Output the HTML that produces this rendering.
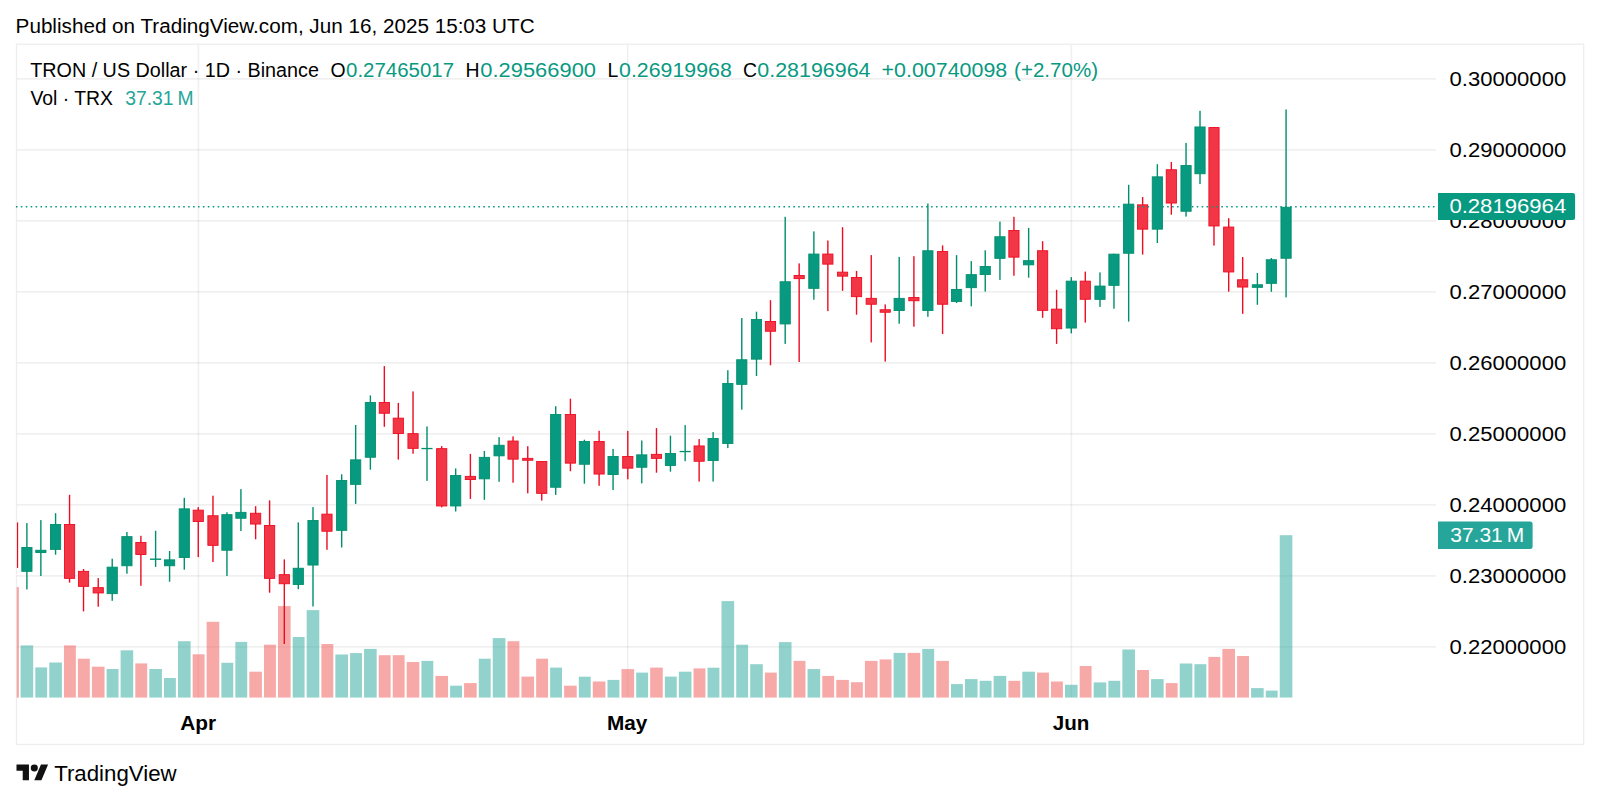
<!DOCTYPE html>
<html lang="en">
<head>
<meta charset="utf-8">
<title>TRON / US Dollar chart</title>
<style>
html,body{margin:0;padding:0;background:#fff;}
body{width:1600px;height:802px;overflow:hidden;position:relative;font-family:"Liberation Sans",sans-serif;}
svg{position:absolute;left:0;top:0;display:block;}
text{font-family:"Liberation Sans",sans-serif;}
.k{fill:#000000;}
.g{fill:#089981;}
</style>
</head>
<body>
<svg width="1600" height="802" viewBox="0 0 1600 802">
<rect x="0" y="0" width="1600" height="802" fill="#ffffff"/>
<defs><clipPath id="pane"><rect x="16.5" y="44.5" width="1420" height="653.25"/></clipPath></defs>
<g stroke="#000000" stroke-opacity="0.06" stroke-width="1.6" fill="none">
<line x1="17" y1="78.9" x2="1436" y2="78.9"/>
<line x1="17" y1="149.9" x2="1436" y2="149.9"/>
<line x1="17" y1="220.9" x2="1436" y2="220.9"/>
<line x1="17" y1="291.9" x2="1436" y2="291.9"/>
<line x1="17" y1="362.9" x2="1436" y2="362.9"/>
<line x1="17" y1="433.9" x2="1436" y2="433.9"/>
<line x1="17" y1="504.9" x2="1436" y2="504.9"/>
<line x1="17" y1="575.9" x2="1436" y2="575.9"/>
<line x1="17" y1="646.9" x2="1436" y2="646.9"/>
<line x1="198.4" y1="45" x2="198.4" y2="697.75"/>
<line x1="627.7" y1="45" x2="627.7" y2="697.75"/>
<line x1="1071.4" y1="45" x2="1071.4" y2="697.75"/>
</g>
<g clip-path="url(#pane)">
<rect x="16.5" y="587.1" width="2.4" height="110.65" fill="#ef5350" fill-opacity="0.5"/>
<rect x="20.58" y="645.4" width="12.61" height="52.35" fill="#26a69a" fill-opacity="0.5"/>
<rect x="35.29" y="667.4" width="11.87" height="30.35" fill="#26a69a" fill-opacity="0.5"/>
<rect x="49.26" y="662.5" width="12.61" height="35.25" fill="#26a69a" fill-opacity="0.5"/>
<rect x="63.97" y="645.4" width="11.87" height="52.35" fill="#ef5350" fill-opacity="0.5"/>
<rect x="77.95" y="658.7" width="11.87" height="39.05" fill="#ef5350" fill-opacity="0.5"/>
<rect x="91.92" y="666.7" width="12.61" height="31.05" fill="#ef5350" fill-opacity="0.5"/>
<rect x="106.63" y="669" width="11.87" height="28.75" fill="#26a69a" fill-opacity="0.5"/>
<rect x="120.61" y="650.3" width="12.61" height="47.45" fill="#26a69a" fill-opacity="0.5"/>
<rect x="135.32" y="663.4" width="11.87" height="34.35" fill="#ef5350" fill-opacity="0.5"/>
<rect x="149.29" y="669" width="12.61" height="28.75" fill="#26a69a" fill-opacity="0.5"/>
<rect x="164" y="678" width="11.87" height="19.75" fill="#26a69a" fill-opacity="0.5"/>
<rect x="177.98" y="641.2" width="12.61" height="56.55" fill="#26a69a" fill-opacity="0.5"/>
<rect x="192.69" y="654.3" width="11.87" height="43.45" fill="#ef5350" fill-opacity="0.5"/>
<rect x="206.66" y="621.8" width="12.61" height="75.95" fill="#ef5350" fill-opacity="0.5"/>
<rect x="221.37" y="662.8" width="11.87" height="34.95" fill="#26a69a" fill-opacity="0.5"/>
<rect x="235.34" y="641.9" width="11.87" height="55.85" fill="#26a69a" fill-opacity="0.5"/>
<rect x="249.32" y="671.7" width="12.61" height="26.05" fill="#ef5350" fill-opacity="0.5"/>
<rect x="264.03" y="644.7" width="11.87" height="53.05" fill="#ef5350" fill-opacity="0.5"/>
<rect x="278" y="606.1" width="12.61" height="91.65" fill="#ef5350" fill-opacity="0.5"/>
<rect x="292.71" y="637" width="11.87" height="60.75" fill="#26a69a" fill-opacity="0.5"/>
<rect x="306.69" y="610.1" width="12.61" height="87.65" fill="#26a69a" fill-opacity="0.5"/>
<rect x="321.4" y="644" width="11.87" height="53.75" fill="#ef5350" fill-opacity="0.5"/>
<rect x="335.37" y="654.5" width="12.61" height="43.25" fill="#26a69a" fill-opacity="0.5"/>
<rect x="350.08" y="653.1" width="11.87" height="44.65" fill="#26a69a" fill-opacity="0.5"/>
<rect x="364.06" y="648.9" width="12.61" height="48.85" fill="#26a69a" fill-opacity="0.5"/>
<rect x="378.77" y="655.2" width="11.87" height="42.55" fill="#ef5350" fill-opacity="0.5"/>
<rect x="392.74" y="655.2" width="11.87" height="42.55" fill="#ef5350" fill-opacity="0.5"/>
<rect x="406.72" y="662" width="12.61" height="35.75" fill="#ef5350" fill-opacity="0.5"/>
<rect x="421.43" y="660.9" width="11.87" height="36.85" fill="#26a69a" fill-opacity="0.5"/>
<rect x="435.4" y="675.9" width="12.61" height="21.85" fill="#ef5350" fill-opacity="0.5"/>
<rect x="450.11" y="685.7" width="11.87" height="12.05" fill="#26a69a" fill-opacity="0.5"/>
<rect x="464.08" y="683.1" width="12.61" height="14.65" fill="#ef5350" fill-opacity="0.5"/>
<rect x="478.79" y="658.7" width="11.87" height="39.05" fill="#26a69a" fill-opacity="0.5"/>
<rect x="492.77" y="638.1" width="12.61" height="59.65" fill="#26a69a" fill-opacity="0.5"/>
<rect x="507.48" y="641.2" width="11.87" height="56.55" fill="#ef5350" fill-opacity="0.5"/>
<rect x="521.45" y="676.6" width="12.61" height="21.15" fill="#ef5350" fill-opacity="0.5"/>
<rect x="536.16" y="658.7" width="11.87" height="39.05" fill="#ef5350" fill-opacity="0.5"/>
<rect x="550.14" y="667.6" width="11.87" height="30.15" fill="#26a69a" fill-opacity="0.5"/>
<rect x="564.11" y="685.7" width="12.61" height="12.05" fill="#ef5350" fill-opacity="0.5"/>
<rect x="578.82" y="676.7" width="11.87" height="21.05" fill="#26a69a" fill-opacity="0.5"/>
<rect x="592.8" y="681.5" width="12.61" height="16.25" fill="#ef5350" fill-opacity="0.5"/>
<rect x="607.51" y="679.9" width="11.87" height="17.85" fill="#26a69a" fill-opacity="0.5"/>
<rect x="621.48" y="669.1" width="12.61" height="28.65" fill="#ef5350" fill-opacity="0.5"/>
<rect x="636.19" y="672.6" width="11.87" height="25.15" fill="#26a69a" fill-opacity="0.5"/>
<rect x="650.17" y="667.6" width="12.61" height="30.15" fill="#ef5350" fill-opacity="0.5"/>
<rect x="664.88" y="676.6" width="11.87" height="21.15" fill="#26a69a" fill-opacity="0.5"/>
<rect x="678.85" y="671.7" width="12.61" height="26.05" fill="#26a69a" fill-opacity="0.5"/>
<rect x="693.56" y="668.4" width="11.87" height="29.35" fill="#ef5350" fill-opacity="0.5"/>
<rect x="707.54" y="667.7" width="11.87" height="30.05" fill="#26a69a" fill-opacity="0.5"/>
<rect x="721.51" y="601.1" width="12.61" height="96.65" fill="#26a69a" fill-opacity="0.5"/>
<rect x="736.22" y="644.7" width="11.87" height="53.05" fill="#26a69a" fill-opacity="0.5"/>
<rect x="750.19" y="664.2" width="12.61" height="33.55" fill="#26a69a" fill-opacity="0.5"/>
<rect x="764.9" y="672.6" width="11.87" height="25.15" fill="#ef5350" fill-opacity="0.5"/>
<rect x="778.88" y="642.1" width="12.61" height="55.65" fill="#26a69a" fill-opacity="0.5"/>
<rect x="793.59" y="660.9" width="11.87" height="36.85" fill="#ef5350" fill-opacity="0.5"/>
<rect x="807.56" y="669.1" width="12.61" height="28.65" fill="#26a69a" fill-opacity="0.5"/>
<rect x="822.27" y="675.9" width="11.87" height="21.85" fill="#ef5350" fill-opacity="0.5"/>
<rect x="836.25" y="679.9" width="12.61" height="17.85" fill="#ef5350" fill-opacity="0.5"/>
<rect x="850.96" y="682.2" width="11.87" height="15.55" fill="#ef5350" fill-opacity="0.5"/>
<rect x="864.93" y="660.9" width="12.61" height="36.85" fill="#ef5350" fill-opacity="0.5"/>
<rect x="879.64" y="659.4" width="11.87" height="38.35" fill="#ef5350" fill-opacity="0.5"/>
<rect x="893.62" y="652.9" width="11.87" height="44.85" fill="#26a69a" fill-opacity="0.5"/>
<rect x="907.59" y="652.9" width="12.61" height="44.85" fill="#ef5350" fill-opacity="0.5"/>
<rect x="922.3" y="648.9" width="11.87" height="48.85" fill="#26a69a" fill-opacity="0.5"/>
<rect x="936.28" y="660.9" width="12.61" height="36.85" fill="#ef5350" fill-opacity="0.5"/>
<rect x="950.99" y="684.1" width="11.87" height="13.65" fill="#26a69a" fill-opacity="0.5"/>
<rect x="964.96" y="679.1" width="12.61" height="18.65" fill="#26a69a" fill-opacity="0.5"/>
<rect x="979.67" y="680.8" width="11.87" height="16.95" fill="#26a69a" fill-opacity="0.5"/>
<rect x="993.64" y="675.9" width="12.61" height="21.85" fill="#26a69a" fill-opacity="0.5"/>
<rect x="1008.35" y="680.8" width="11.87" height="16.95" fill="#ef5350" fill-opacity="0.5"/>
<rect x="1022.33" y="671.7" width="12.61" height="26.05" fill="#26a69a" fill-opacity="0.5"/>
<rect x="1037.04" y="672.6" width="11.87" height="25.15" fill="#ef5350" fill-opacity="0.5"/>
<rect x="1051.01" y="681.5" width="11.87" height="16.25" fill="#ef5350" fill-opacity="0.5"/>
<rect x="1064.99" y="684.8" width="12.61" height="12.95" fill="#26a69a" fill-opacity="0.5"/>
<rect x="1079.7" y="666" width="11.87" height="31.75" fill="#ef5350" fill-opacity="0.5"/>
<rect x="1093.67" y="682.4" width="12.61" height="15.35" fill="#26a69a" fill-opacity="0.5"/>
<rect x="1108.38" y="680.8" width="11.87" height="16.95" fill="#26a69a" fill-opacity="0.5"/>
<rect x="1122.36" y="649.5" width="12.61" height="48.25" fill="#26a69a" fill-opacity="0.5"/>
<rect x="1137.07" y="670" width="11.87" height="27.75" fill="#ef5350" fill-opacity="0.5"/>
<rect x="1151.04" y="679.1" width="12.61" height="18.65" fill="#26a69a" fill-opacity="0.5"/>
<rect x="1165.75" y="683.1" width="11.87" height="14.65" fill="#ef5350" fill-opacity="0.5"/>
<rect x="1179.73" y="663.5" width="12.61" height="34.25" fill="#26a69a" fill-opacity="0.5"/>
<rect x="1194.44" y="664.2" width="11.87" height="33.55" fill="#26a69a" fill-opacity="0.5"/>
<rect x="1208.41" y="656.9" width="11.87" height="40.85" fill="#ef5350" fill-opacity="0.5"/>
<rect x="1222.39" y="648.9" width="12.61" height="48.85" fill="#ef5350" fill-opacity="0.5"/>
<rect x="1237.1" y="656" width="11.87" height="41.75" fill="#ef5350" fill-opacity="0.5"/>
<rect x="1251.07" y="688.1" width="12.61" height="9.65" fill="#26a69a" fill-opacity="0.5"/>
<rect x="1265.78" y="690.6" width="11.87" height="7.15" fill="#26a69a" fill-opacity="0.5"/>
<rect x="1279.75" y="535.2" width="12.61" height="162.55" fill="#26a69a" fill-opacity="0.5"/>
</g>
<g clip-path="url(#pane)">
<rect x="16.9" y="522.4" width="1.25" height="45.5" fill="#EE0C22"/>
<rect x="26.19" y="523.1" width="1.4" height="66.3" fill="#008F6C"/><rect x="21.79" y="547.45" width="10.2" height="23.9" fill="#089981" stroke="#008F6C" stroke-width="0.9"/>
<rect x="40.16" y="520.1" width="1.4" height="55.9" fill="#008F6C"/><rect x="35.76" y="550.25" width="10.2" height="2.3" fill="#089981" stroke="#008F6C" stroke-width="0.9"/>
<rect x="54.87" y="513.2" width="1.4" height="41.5" fill="#008F6C"/><rect x="50.47" y="524.45" width="10.2" height="24.9" fill="#089981" stroke="#008F6C" stroke-width="0.9"/>
<rect x="68.85" y="494.8" width="1.4" height="87.8" fill="#EE0C22"/><rect x="64.45" y="524.45" width="10.2" height="53.9" fill="#F23645" stroke="#EE0C22" stroke-width="0.9"/>
<rect x="82.82" y="569" width="1.4" height="42.4" fill="#EE0C22"/><rect x="78.42" y="571.35" width="10.2" height="15" fill="#F23645" stroke="#EE0C22" stroke-width="0.9"/>
<rect x="97.53" y="578.1" width="1.4" height="28.6" fill="#EE0C22"/><rect x="93.13" y="587.65" width="10.2" height="5.3" fill="#F23645" stroke="#EE0C22" stroke-width="0.9"/>
<rect x="111.51" y="558.7" width="1.4" height="42.1" fill="#008F6C"/><rect x="107.11" y="567.15" width="10.2" height="26.5" fill="#089981" stroke="#008F6C" stroke-width="0.9"/>
<rect x="126.22" y="532" width="1.4" height="41.7" fill="#008F6C"/><rect x="121.82" y="536.65" width="10.2" height="29.1" fill="#089981" stroke="#008F6C" stroke-width="0.9"/>
<rect x="140.19" y="535.8" width="1.4" height="50" fill="#EE0C22"/><rect x="135.79" y="542.45" width="10.2" height="12" fill="#F23645" stroke="#EE0C22" stroke-width="0.9"/>
<rect x="154.9" y="530.8" width="1.4" height="36.1" fill="#008F6C"/><rect x="150.05" y="558.5" width="11.1" height="1.4" fill="#008F6C"/>
<rect x="168.88" y="551" width="1.4" height="30.7" fill="#008F6C"/><rect x="164.48" y="559.85" width="10.2" height="5.9" fill="#089981" stroke="#008F6C" stroke-width="0.9"/>
<rect x="183.59" y="497.8" width="1.4" height="71.9" fill="#008F6C"/><rect x="179.19" y="508.85" width="10.2" height="48.7" fill="#089981" stroke="#008F6C" stroke-width="0.9"/>
<rect x="197.56" y="507.1" width="1.4" height="50" fill="#EE0C22"/><rect x="193.16" y="510.15" width="10.2" height="11.3" fill="#F23645" stroke="#EE0C22" stroke-width="0.9"/>
<rect x="212.27" y="495.7" width="1.4" height="66.3" fill="#EE0C22"/><rect x="207.87" y="515.75" width="10.2" height="29.6" fill="#F23645" stroke="#EE0C22" stroke-width="0.9"/>
<rect x="226.24" y="512.3" width="1.4" height="63.7" fill="#008F6C"/><rect x="221.84" y="514.65" width="10.2" height="35.6" fill="#089981" stroke="#008F6C" stroke-width="0.9"/>
<rect x="240.22" y="489.1" width="1.4" height="41.9" fill="#008F6C"/><rect x="235.82" y="512.35" width="10.2" height="5.9" fill="#089981" stroke="#008F6C" stroke-width="0.9"/>
<rect x="254.93" y="506.2" width="1.4" height="33.1" fill="#EE0C22"/><rect x="250.53" y="513.25" width="10.2" height="10.8" fill="#F23645" stroke="#EE0C22" stroke-width="0.9"/>
<rect x="268.9" y="500.4" width="1.4" height="92.3" fill="#EE0C22"/><rect x="264.5" y="525.45" width="10.2" height="52.9" fill="#F23645" stroke="#EE0C22" stroke-width="0.9"/>
<rect x="283.61" y="559.4" width="1.4" height="84.6" fill="#EE0C22"/><rect x="279.21" y="574.65" width="10.2" height="9.1" fill="#F23645" stroke="#EE0C22" stroke-width="0.9"/>
<rect x="297.59" y="522.4" width="1.4" height="66.8" fill="#008F6C"/><rect x="293.19" y="568.25" width="10.2" height="16.2" fill="#089981" stroke="#008F6C" stroke-width="0.9"/>
<rect x="312.3" y="507.1" width="1.4" height="99.4" fill="#008F6C"/><rect x="307.9" y="520.55" width="10.2" height="44.5" fill="#089981" stroke="#008F6C" stroke-width="0.9"/>
<rect x="326.27" y="475" width="1.4" height="74.8" fill="#EE0C22"/><rect x="321.87" y="514.15" width="10.2" height="17.1" fill="#F23645" stroke="#EE0C22" stroke-width="0.9"/>
<rect x="340.98" y="474.3" width="1.4" height="73.2" fill="#008F6C"/><rect x="336.58" y="480.45" width="10.2" height="49.9" fill="#089981" stroke="#008F6C" stroke-width="0.9"/>
<rect x="354.96" y="425" width="1.4" height="78.9" fill="#008F6C"/><rect x="350.56" y="459.85" width="10.2" height="24.5" fill="#089981" stroke="#008F6C" stroke-width="0.9"/>
<rect x="369.67" y="395.4" width="1.4" height="74.3" fill="#008F6C"/><rect x="365.27" y="402.45" width="10.2" height="54.8" fill="#089981" stroke="#008F6C" stroke-width="0.9"/>
<rect x="383.64" y="366.1" width="1.4" height="60.7" fill="#EE0C22"/><rect x="379.24" y="402.45" width="10.2" height="10.8" fill="#F23645" stroke="#EE0C22" stroke-width="0.9"/>
<rect x="397.62" y="402.9" width="1.4" height="56.7" fill="#EE0C22"/><rect x="393.22" y="418.15" width="10.2" height="15.3" fill="#F23645" stroke="#EE0C22" stroke-width="0.9"/>
<rect x="412.33" y="391.4" width="1.4" height="62.3" fill="#EE0C22"/><rect x="407.93" y="433.65" width="10.2" height="14.7" fill="#F23645" stroke="#EE0C22" stroke-width="0.9"/>
<rect x="426.3" y="426.4" width="1.4" height="54.5" fill="#008F6C"/><rect x="421.45" y="447.9" width="11.1" height="1.3" fill="#008F6C"/>
<rect x="441.01" y="446.1" width="1.4" height="61.2" fill="#EE0C22"/><rect x="436.61" y="448.65" width="10.2" height="57.3" fill="#F23645" stroke="#EE0C22" stroke-width="0.9"/>
<rect x="454.98" y="468.4" width="1.4" height="43.1" fill="#008F6C"/><rect x="450.58" y="475.45" width="10.2" height="30.5" fill="#089981" stroke="#008F6C" stroke-width="0.9"/>
<rect x="469.69" y="453.9" width="1.4" height="45" fill="#EE0C22"/><rect x="465.29" y="476.35" width="10.2" height="3.2" fill="#F23645" stroke="#EE0C22" stroke-width="0.9"/>
<rect x="483.67" y="451" width="1.4" height="48.8" fill="#008F6C"/><rect x="479.27" y="457.35" width="10.2" height="21.5" fill="#089981" stroke="#008F6C" stroke-width="0.9"/>
<rect x="498.38" y="437.1" width="1.4" height="44.7" fill="#008F6C"/><rect x="493.98" y="445.25" width="10.2" height="10.6" fill="#089981" stroke="#008F6C" stroke-width="0.9"/>
<rect x="512.35" y="436.4" width="1.4" height="46.3" fill="#EE0C22"/><rect x="507.95" y="441.05" width="10.2" height="18.1" fill="#F23645" stroke="#EE0C22" stroke-width="0.9"/>
<rect x="527.06" y="446.2" width="1.4" height="47.1" fill="#EE0C22"/><rect x="522.66" y="458.35" width="10.2" height="1.9" fill="#F23645" stroke="#EE0C22" stroke-width="0.9"/>
<rect x="541.04" y="461" width="1.4" height="39.6" fill="#EE0C22"/><rect x="536.64" y="461.45" width="10.2" height="31.9" fill="#F23645" stroke="#EE0C22" stroke-width="0.9"/>
<rect x="555.01" y="406.2" width="1.4" height="88.7" fill="#008F6C"/><rect x="550.61" y="414.55" width="10.2" height="72.7" fill="#089981" stroke="#008F6C" stroke-width="0.9"/>
<rect x="569.72" y="398.7" width="1.4" height="72.5" fill="#EE0C22"/><rect x="565.32" y="414.55" width="10.2" height="48.6" fill="#F23645" stroke="#EE0C22" stroke-width="0.9"/>
<rect x="583.7" y="439.7" width="1.4" height="44" fill="#008F6C"/><rect x="579.3" y="441.55" width="10.2" height="22.7" fill="#089981" stroke="#008F6C" stroke-width="0.9"/>
<rect x="598.41" y="430.8" width="1.4" height="55" fill="#EE0C22"/><rect x="594.01" y="441.55" width="10.2" height="32.5" fill="#F23645" stroke="#EE0C22" stroke-width="0.9"/>
<rect x="612.38" y="449" width="1.4" height="41" fill="#008F6C"/><rect x="607.98" y="456.45" width="10.2" height="18.1" fill="#089981" stroke="#008F6C" stroke-width="0.9"/>
<rect x="627.09" y="430.9" width="1.4" height="48.4" fill="#EE0C22"/><rect x="622.69" y="456.45" width="10.2" height="11.7" fill="#F23645" stroke="#EE0C22" stroke-width="0.9"/>
<rect x="641.07" y="440.5" width="1.4" height="42.9" fill="#008F6C"/><rect x="636.67" y="454.85" width="10.2" height="12.4" fill="#089981" stroke="#008F6C" stroke-width="0.9"/>
<rect x="655.78" y="428.1" width="1.4" height="44.6" fill="#EE0C22"/><rect x="651.38" y="454.35" width="10.2" height="4" fill="#F23645" stroke="#EE0C22" stroke-width="0.9"/>
<rect x="669.75" y="435.7" width="1.4" height="36" fill="#008F6C"/><rect x="665.35" y="453.45" width="10.2" height="12" fill="#089981" stroke="#008F6C" stroke-width="0.9"/>
<rect x="684.46" y="425.1" width="1.4" height="36.1" fill="#008F6C"/><rect x="679.61" y="450.9" width="11.1" height="1.3" fill="#008F6C"/>
<rect x="698.44" y="439.1" width="1.4" height="42.5" fill="#EE0C22"/><rect x="694.04" y="445.95" width="10.2" height="15.3" fill="#F23645" stroke="#EE0C22" stroke-width="0.9"/>
<rect x="712.41" y="432.1" width="1.4" height="49.5" fill="#008F6C"/><rect x="708.01" y="438.45" width="10.2" height="22.1" fill="#089981" stroke="#008F6C" stroke-width="0.9"/>
<rect x="727.12" y="370.2" width="1.4" height="77.9" fill="#008F6C"/><rect x="722.72" y="383.45" width="10.2" height="60" fill="#089981" stroke="#008F6C" stroke-width="0.9"/>
<rect x="741.09" y="318" width="1.4" height="91.7" fill="#008F6C"/><rect x="736.69" y="359.75" width="10.2" height="24.6" fill="#089981" stroke="#008F6C" stroke-width="0.9"/>
<rect x="755.8" y="311.7" width="1.4" height="64.3" fill="#008F6C"/><rect x="751.4" y="319.55" width="10.2" height="39.6" fill="#089981" stroke="#008F6C" stroke-width="0.9"/>
<rect x="769.78" y="300.2" width="1.4" height="65.1" fill="#EE0C22"/><rect x="765.38" y="321.45" width="10.2" height="9.8" fill="#F23645" stroke="#EE0C22" stroke-width="0.9"/>
<rect x="784.49" y="216.8" width="1.4" height="127.1" fill="#008F6C"/><rect x="780.09" y="281.75" width="10.2" height="42.2" fill="#089981" stroke="#008F6C" stroke-width="0.9"/>
<rect x="798.46" y="263.4" width="1.4" height="98.6" fill="#EE0C22"/><rect x="794.06" y="275.45" width="10.2" height="3.2" fill="#F23645" stroke="#EE0C22" stroke-width="0.9"/>
<rect x="813.17" y="231.4" width="1.4" height="68.3" fill="#008F6C"/><rect x="808.77" y="254.05" width="10.2" height="34.3" fill="#089981" stroke="#008F6C" stroke-width="0.9"/>
<rect x="827.15" y="240.5" width="1.4" height="70.6" fill="#EE0C22"/><rect x="822.75" y="254.05" width="10.2" height="10.1" fill="#F23645" stroke="#EE0C22" stroke-width="0.9"/>
<rect x="841.86" y="227.2" width="1.4" height="63.6" fill="#EE0C22"/><rect x="837.46" y="272.15" width="10.2" height="4" fill="#F23645" stroke="#EE0C22" stroke-width="0.9"/>
<rect x="855.83" y="270.9" width="1.4" height="43.8" fill="#EE0C22"/><rect x="851.43" y="277.45" width="10.2" height="19.2" fill="#F23645" stroke="#EE0C22" stroke-width="0.9"/>
<rect x="870.54" y="255.1" width="1.4" height="87.3" fill="#EE0C22"/><rect x="866.14" y="298.35" width="10.2" height="5.9" fill="#F23645" stroke="#EE0C22" stroke-width="0.9"/>
<rect x="884.52" y="304.4" width="1.4" height="57.2" fill="#EE0C22"/><rect x="880.12" y="309.75" width="10.2" height="2.5" fill="#F23645" stroke="#EE0C22" stroke-width="0.9"/>
<rect x="898.49" y="256.9" width="1.4" height="66.8" fill="#008F6C"/><rect x="894.09" y="298.35" width="10.2" height="12.2" fill="#089981" stroke="#008F6C" stroke-width="0.9"/>
<rect x="913.2" y="256.2" width="1.4" height="70.5" fill="#EE0C22"/><rect x="908.8" y="297.55" width="10.2" height="3.2" fill="#F23645" stroke="#EE0C22" stroke-width="0.9"/>
<rect x="927.18" y="203.5" width="1.4" height="113.3" fill="#008F6C"/><rect x="922.78" y="250.75" width="10.2" height="59.8" fill="#089981" stroke="#008F6C" stroke-width="0.9"/>
<rect x="941.89" y="245.4" width="1.4" height="88.6" fill="#EE0C22"/><rect x="937.49" y="251.55" width="10.2" height="52.7" fill="#F23645" stroke="#EE0C22" stroke-width="0.9"/>
<rect x="955.86" y="255.1" width="1.4" height="47.9" fill="#008F6C"/><rect x="951.46" y="289.45" width="10.2" height="12" fill="#089981" stroke="#008F6C" stroke-width="0.9"/>
<rect x="970.57" y="261.1" width="1.4" height="45.2" fill="#008F6C"/><rect x="966.17" y="274.65" width="10.2" height="13" fill="#089981" stroke="#008F6C" stroke-width="0.9"/>
<rect x="984.54" y="250.3" width="1.4" height="41.3" fill="#008F6C"/><rect x="980.14" y="266.45" width="10.2" height="8.1" fill="#089981" stroke="#008F6C" stroke-width="0.9"/>
<rect x="999.25" y="221.6" width="1.4" height="58.3" fill="#008F6C"/><rect x="994.85" y="236.75" width="10.2" height="21.6" fill="#089981" stroke="#008F6C" stroke-width="0.9"/>
<rect x="1013.23" y="216.8" width="1.4" height="58.9" fill="#EE0C22"/><rect x="1008.83" y="230.45" width="10.2" height="26.7" fill="#F23645" stroke="#EE0C22" stroke-width="0.9"/>
<rect x="1027.94" y="227.9" width="1.4" height="49.8" fill="#008F6C"/><rect x="1023.54" y="260.65" width="10.2" height="4.2" fill="#089981" stroke="#008F6C" stroke-width="0.9"/>
<rect x="1041.91" y="241.2" width="1.4" height="76.6" fill="#EE0C22"/><rect x="1037.51" y="250.75" width="10.2" height="59.6" fill="#F23645" stroke="#EE0C22" stroke-width="0.9"/>
<rect x="1055.89" y="289.8" width="1.4" height="54.1" fill="#EE0C22"/><rect x="1051.49" y="309.15" width="10.2" height="19.6" fill="#F23645" stroke="#EE0C22" stroke-width="0.9"/>
<rect x="1070.6" y="277.1" width="1.4" height="56.3" fill="#008F6C"/><rect x="1066.2" y="281.15" width="10.2" height="46.9" fill="#089981" stroke="#008F6C" stroke-width="0.9"/>
<rect x="1084.57" y="271.6" width="1.4" height="51" fill="#EE0C22"/><rect x="1080.17" y="281.15" width="10.2" height="18.1" fill="#F23645" stroke="#EE0C22" stroke-width="0.9"/>
<rect x="1099.28" y="272.4" width="1.4" height="34.5" fill="#008F6C"/><rect x="1094.88" y="286.05" width="10.2" height="13.3" fill="#089981" stroke="#008F6C" stroke-width="0.9"/>
<rect x="1113.26" y="253.7" width="1.4" height="55" fill="#008F6C"/><rect x="1108.86" y="254.15" width="10.2" height="31.2" fill="#089981" stroke="#008F6C" stroke-width="0.9"/>
<rect x="1127.97" y="184.8" width="1.4" height="136.8" fill="#008F6C"/><rect x="1123.57" y="204.15" width="10.2" height="49.1" fill="#089981" stroke="#008F6C" stroke-width="0.9"/>
<rect x="1141.94" y="197" width="1.4" height="57.6" fill="#EE0C22"/><rect x="1137.54" y="204.85" width="10.2" height="24.3" fill="#F23645" stroke="#EE0C22" stroke-width="0.9"/>
<rect x="1156.65" y="164.2" width="1.4" height="78.8" fill="#008F6C"/><rect x="1152.25" y="176.85" width="10.2" height="52.3" fill="#089981" stroke="#008F6C" stroke-width="0.9"/>
<rect x="1170.63" y="162" width="1.4" height="52.7" fill="#EE0C22"/><rect x="1166.23" y="169.75" width="10.2" height="33.3" fill="#F23645" stroke="#EE0C22" stroke-width="0.9"/>
<rect x="1185.34" y="142.9" width="1.4" height="73.7" fill="#008F6C"/><rect x="1180.94" y="165.55" width="10.2" height="45.7" fill="#089981" stroke="#008F6C" stroke-width="0.9"/>
<rect x="1199.31" y="110.8" width="1.4" height="73.3" fill="#008F6C"/><rect x="1194.91" y="126.95" width="10.2" height="46.8" fill="#089981" stroke="#008F6C" stroke-width="0.9"/>
<rect x="1213.29" y="127.1" width="1.4" height="118.5" fill="#EE0C22"/><rect x="1208.89" y="127.55" width="10.2" height="98.4" fill="#F23645" stroke="#EE0C22" stroke-width="0.9"/>
<rect x="1228" y="218.2" width="1.4" height="73.5" fill="#EE0C22"/><rect x="1223.6" y="227.05" width="10.2" height="44.9" fill="#F23645" stroke="#EE0C22" stroke-width="0.9"/>
<rect x="1241.97" y="257" width="1.4" height="56.8" fill="#EE0C22"/><rect x="1237.57" y="279.75" width="10.2" height="7.3" fill="#F23645" stroke="#EE0C22" stroke-width="0.9"/>
<rect x="1256.68" y="273" width="1.4" height="31.8" fill="#008F6C"/><rect x="1252.28" y="284.75" width="10.2" height="2.6" fill="#089981" stroke="#008F6C" stroke-width="0.9"/>
<rect x="1270.65" y="258" width="1.4" height="33.8" fill="#008F6C"/><rect x="1266.25" y="259.75" width="10.2" height="23.6" fill="#089981" stroke="#008F6C" stroke-width="0.9"/>
<rect x="1285.36" y="109.5" width="1.4" height="187.9" fill="#008F6C"/><rect x="1280.96" y="207.25" width="10.2" height="51" fill="#089981" stroke="#008F6C" stroke-width="0.9"/>
</g>
<line x1="15.93" y1="206.7" x2="1435" y2="206.7" stroke="#089981" stroke-width="1.6" stroke-dasharray="1.55 3.37"/>
<rect x="16.5" y="44.25" width="1567.2" height="700.2" fill="none" stroke="#000000" stroke-opacity="0.065" stroke-width="1.4"/>
<text class="k" x="1449.6" y="85.65" font-size="19.6" textLength="116.6" lengthAdjust="spacingAndGlyphs">0.30000000</text>
<text class="k" x="1449.6" y="156.65" font-size="19.6" textLength="116.6" lengthAdjust="spacingAndGlyphs">0.29000000</text>
<text class="k" x="1449.6" y="227.65" font-size="19.6" textLength="116.6" lengthAdjust="spacingAndGlyphs">0.28000000</text>
<text class="k" x="1449.6" y="298.65" font-size="19.6" textLength="116.6" lengthAdjust="spacingAndGlyphs">0.27000000</text>
<text class="k" x="1449.6" y="369.65" font-size="19.6" textLength="116.6" lengthAdjust="spacingAndGlyphs">0.26000000</text>
<text class="k" x="1449.6" y="440.65" font-size="19.6" textLength="116.6" lengthAdjust="spacingAndGlyphs">0.25000000</text>
<text class="k" x="1449.6" y="511.65" font-size="19.6" textLength="116.6" lengthAdjust="spacingAndGlyphs">0.24000000</text>
<text class="k" x="1449.6" y="582.65" font-size="19.6" textLength="116.6" lengthAdjust="spacingAndGlyphs">0.23000000</text>
<text class="k" x="1449.6" y="653.65" font-size="19.6" textLength="116.6" lengthAdjust="spacingAndGlyphs">0.22000000</text>
<path d="M1438 192.9H1572.6a2.5 2.5 0 0 1 2.5 2.5V217.4a2.5 2.5 0 0 1 -2.5 2.5H1438Z" fill="#089981"/>
<text x="1449.4" y="213.2" font-size="19.6" fill="#ffffff" textLength="116.8" lengthAdjust="spacingAndGlyphs">0.28196964</text>
<path d="M1438 521.5H1530.1a2.5 2.5 0 0 1 2.5 2.5V546.6a2.5 2.5 0 0 1 -2.5 2.5H1438Z" fill="#26a69a"/>
<text x="1450.3" y="542.0" font-size="19.6" fill="#ffffff" textLength="74" lengthAdjust="spacingAndGlyphs">37.31&#8201;M</text>
<text class="k" x="180.3" y="729.7" font-size="19.6" font-weight="700" textLength="35.9" lengthAdjust="spacingAndGlyphs">Apr</text>
<text class="k" x="607" y="729.7" font-size="19.6" font-weight="700" textLength="40.4" lengthAdjust="spacingAndGlyphs">May</text>
<text class="k" x="1052.8" y="729.7" font-size="19.6" font-weight="700" textLength="36.6" lengthAdjust="spacingAndGlyphs">Jun</text>
<text class="k" x="15.6" y="32.5" font-size="19.4" textLength="519" lengthAdjust="spacingAndGlyphs">Published on TradingView.com, Jun 16, 2025 15:03 UTC</text>
<text class="k" x="30.2" y="76.6" font-size="19.4" textLength="288.7" lengthAdjust="spacingAndGlyphs">TRON / US Dollar &#183; 1D &#183; Binance</text>
<text class="k" x="330.6" y="76.6" font-size="19.4">O</text>
<text class="g" x="346.1" y="76.6" font-size="19.4" textLength="107.9" lengthAdjust="spacingAndGlyphs">0.27465017</text>
<text class="k" x="465.6" y="76.6" font-size="19.4">H</text>
<text class="g" x="480.35" y="76.6" font-size="19.4" textLength="115.65" lengthAdjust="spacingAndGlyphs">0.29566900</text>
<text class="k" x="607.4" y="76.6" font-size="19.4">L</text>
<text class="g" x="619.1" y="76.6" font-size="19.4" textLength="112.65" lengthAdjust="spacingAndGlyphs">0.26919968</text>
<text class="k" x="742.9" y="76.6" font-size="19.4">C</text>
<text class="g" x="757.35" y="76.6" font-size="19.4" textLength="113.15" lengthAdjust="spacingAndGlyphs">0.28196964</text>
<text class="g" x="881.6" y="76.6" font-size="19.4" textLength="125.65" lengthAdjust="spacingAndGlyphs">+0.00740098</text>
<text class="g" x="1014.1" y="76.6" font-size="19.4" textLength="83.9" lengthAdjust="spacingAndGlyphs">(+2.70%)</text>
<text class="k" x="30.5" y="104.7" font-size="19.4" textLength="82.5" lengthAdjust="spacingAndGlyphs">Vol &#183; TRX</text>
<text x="125.3" y="104.7" font-size="19.4" fill="#26a69a" textLength="68.2" lengthAdjust="spacingAndGlyphs">37.31&#8201;M</text>
<g transform="translate(16.5,761.1) scale(0.89,0.87)" fill="#111111"><path d="M14 22H7V11H0V4h14v18z"/><circle cx="20" cy="8" r="4"/><path d="M28 22h-8l7.5-18h8L28 22z"/></g>
<text class="k" x="54.2" y="780.8" font-size="21.8" textLength="122.4" lengthAdjust="spacingAndGlyphs">TradingView</text>
</svg>
</body>
</html>
